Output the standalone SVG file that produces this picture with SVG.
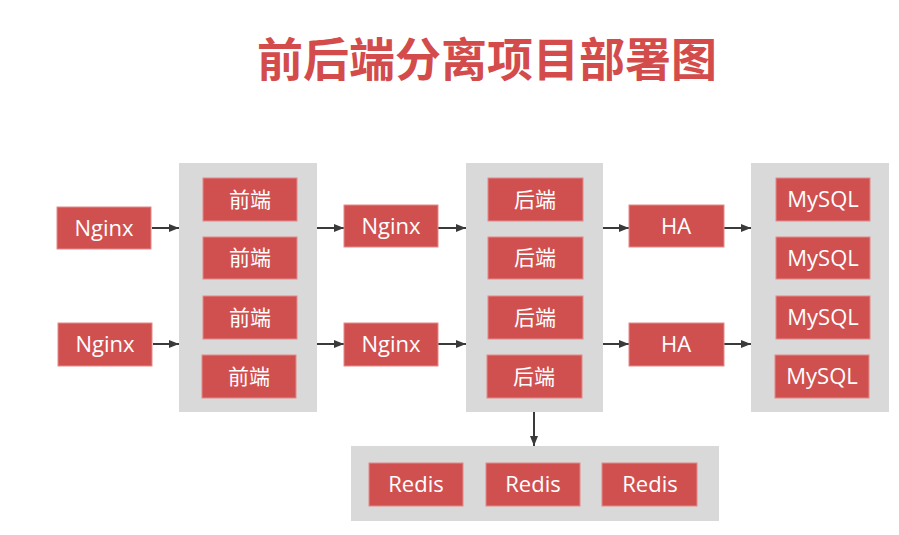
<svg xmlns="http://www.w3.org/2000/svg" width="899" height="535" viewBox="0 0 899 535">
<defs>
<style>
.panel{fill:#d9d9d9}
.box{fill:#d05050;stroke:#e48a8a;stroke-width:1}
.t{fill:#ffffff;font-family:"Open Sans","Noto Sans CJK SC",sans-serif;font-size:22px;text-anchor:middle}
.c{fill:#ffffff;font-family:"Noto Sans CJK SC",sans-serif;font-size:21px;text-anchor:middle}
.title{fill:#d34b4b;font-family:"Noto Sans CJK SC",sans-serif;font-size:46px;font-weight:700;text-anchor:middle}
.ln{stroke:#3a3a3a;stroke-width:2;fill:none;marker-end:url(#ah)}
</style>
<marker id="ah" markerUnits="userSpaceOnUse" markerWidth="12" markerHeight="10" refX="10" refY="5" orient="auto">
<path d="M0,1 L10,5 L0,9 Z" fill="#3a3a3a"/>
</marker>
</defs>
<rect width="899" height="535" fill="#ffffff"/>
<text class="title" x="487" y="76">前后端分离项目部署图</text>

<g id="panels">
<rect class="panel" x="179" y="163" width="138" height="249"/>
<rect class="panel" x="466" y="163" width="137" height="249"/>
<rect class="panel" x="751" y="163" width="138" height="249"/>
<rect class="panel" x="351" y="446" width="368" height="75"/>
</g>

<g id="connectors">
<line class="ln" x1="152" y1="228" x2="179" y2="228"/>
<line class="ln" x1="153" y1="344" x2="179" y2="344"/>
<line class="ln" x1="317" y1="228" x2="344" y2="228"/>
<line class="ln" x1="317" y1="344" x2="344" y2="344"/>
<line class="ln" x1="438" y1="228" x2="466" y2="228"/>
<line class="ln" x1="438" y1="344" x2="466" y2="344"/>
<line class="ln" x1="603" y1="228" x2="629" y2="228"/>
<line class="ln" x1="603" y1="344" x2="629" y2="344"/>
<line class="ln" x1="724" y1="228" x2="751" y2="228"/>
<line class="ln" x1="724" y1="344" x2="751" y2="344"/>
<line class="ln" x1="534" y1="412" x2="534" y2="446"/>
</g>

<g id="nginx1"><rect class="box" x="57" y="207" width="94" height="42"/><text class="t" x="104" y="236">Nginx</text></g>
<g id="nginx2"><rect class="box" x="58" y="323" width="94" height="43"/><text class="t" x="105" y="352">Nginx</text></g>

<g id="fe1"><rect class="box" x="203" y="178" width="94" height="43"/><text class="c" x="250" y="207">前端</text></g>
<g id="fe2"><rect class="box" x="203" y="237" width="94" height="42"/><text class="c" x="250" y="265">前端</text></g>
<g id="fe3"><rect class="box" x="203" y="296" width="94" height="43"/><text class="c" x="250" y="325">前端</text></g>
<g id="fe4"><rect class="box" x="202" y="355" width="94" height="43"/><text class="c" x="249" y="384">前端</text></g>

<g id="nginx3"><rect class="box" x="344" y="205" width="94" height="42"/><text class="t" x="391" y="234">Nginx</text></g>
<g id="nginx4"><rect class="box" x="344" y="323" width="94" height="43"/><text class="t" x="391" y="352">Nginx</text></g>

<g id="be1"><rect class="box" x="488" y="178" width="95" height="43"/><text class="c" x="535" y="207">后端</text></g>
<g id="be2"><rect class="box" x="488" y="237" width="95" height="42"/><text class="c" x="535" y="265">后端</text></g>
<g id="be3"><rect class="box" x="488" y="296" width="95" height="43"/><text class="c" x="535" y="325">后端</text></g>
<g id="be4"><rect class="box" x="487" y="355" width="95" height="43"/><text class="c" x="534" y="384">后端</text></g>

<g id="ha1"><rect class="box" x="629" y="205" width="95" height="42"/><text class="t" x="676" y="234">HA</text></g>
<g id="ha2"><rect class="box" x="629" y="323" width="95" height="43"/><text class="t" x="676" y="352">HA</text></g>

<g id="db1"><rect class="box" x="776" y="178" width="94" height="43"/><text class="t" x="823" y="207">MySQL</text></g>
<g id="db2"><rect class="box" x="776" y="237" width="94" height="42"/><text class="t" x="823" y="266">MySQL</text></g>
<g id="db3"><rect class="box" x="776" y="296" width="94" height="43"/><text class="t" x="823" y="325">MySQL</text></g>
<g id="db4"><rect class="box" x="775" y="355" width="94" height="43"/><text class="t" x="822" y="384">MySQL</text></g>

<g id="redis1"><rect class="box" x="369" y="463" width="94" height="43"/><text class="t" x="416" y="492">Redis</text></g>
<g id="redis2"><rect class="box" x="486" y="463" width="94" height="43"/><text class="t" x="533" y="492">Redis</text></g>
<g id="redis3"><rect class="box" x="602" y="463" width="95" height="43"/><text class="t" x="650" y="492">Redis</text></g>
</svg>
